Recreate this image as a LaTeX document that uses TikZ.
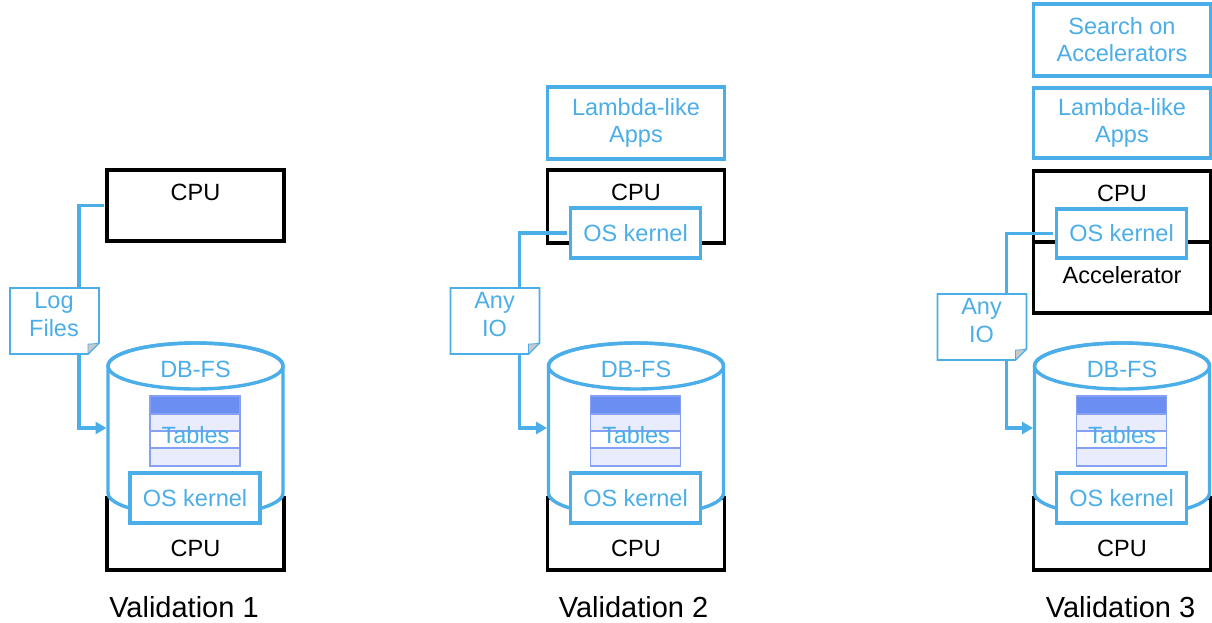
\documentclass[tikz,border=0pt]{standalone}
\usepackage{fontspec}
\setmainfont{Liberation Sans}
\usetikzlibrary{arrows.meta}
\definecolor{sky}{HTML}{4BAEE9}
\definecolor{thead}{HTML}{6A8EF2}
\definecolor{trow}{HTML}{E8ECFC}
\definecolor{tline}{HTML}{86A0F4}
\definecolor{foldgray}{HTML}{C9C9C9}
\tikzset{
  blackbox/.style={draw=black, line width=3.4pt, fill=white, inner sep=0pt},
  bluebox/.style={draw=sky, line width=3.4pt, fill=white, inner sep=0pt, text=sky,
    font=\fontsize{23.5}{27}\selectfont, align=center},
  btxt/.style={text=sky, font=\fontsize{23.5}{27}\selectfont, inner sep=0pt, align=center},
  ktxt/.style={text=black, font=\fontsize{23.5}{27}\selectfont, inner sep=0pt, align=center},
  vtxt/.style={text=black, font=\fontsize{29}{33}\selectfont, inner sep=0pt},
  conn/.style={draw=sky, line width=3.4pt, shorten <=1.5pt},
  arrowconn/.style={conn, -{Triangle[length=11pt,width=12pt]}, shorten >=1.5pt},
  notebox/.style={draw=sky, line width=1.6pt, fill=white, line join=miter},
  cylbody/.style={draw=sky, line width=3.4pt, fill=white},
}
\newcommand\bottompart[3]{%
  \node[blackbox, minimum width=177pt, minimum height=72pt] (cpuB#1) at (195.5,534) {};
  \path[cylbody] (108,366) -- (108,493)
     arc[start angle=180, end angle=360, x radius=87.5pt, y radius=23pt]
     -- (283,366)
     arc[start angle=0, end angle=180, x radius=87.5pt, y radius=23pt] -- cycle;
  \draw[sky, line width=3.4pt] (195.5,366) ellipse[x radius=87.5pt, y radius=23pt];
  \coordinate (cylin#1) at (108,428);
  \fill[thead] (150,396) rectangle (240,414);
  \fill[trow] (150,414) rectangle (240,431);
  \fill[trow] (150,448) rectangle (240,466);
  \draw[tline, line width=1.3pt] (150,396) rectangle (240,466)
     (150,414) -- (240,414) (150,431) -- (240,431) (150,448) -- (240,448);
  \node[btxt] (dbfs#1) at (195.5,369.5) {DB-FS};
  \node[btxt] (tabt#1) at (195.5,435) {Tables};
  \node[bluebox, minimum width=130pt, minimum height=50pt] (osB#1) at (195,498) {OS kernel};
  \node[ktxt] (cpuBt#1) at (195.5,548.5) {CPU};
  \node[vtxt] (val#1) at (#3,607) {#2};
}
\newcommand\docnote[4]{%
  \draw[notebox] (#1,#2) -- (#3,#2) -- (#3,#4-11) -- (#3-11,#4) -- (#1,#4) -- cycle;
  \filldraw[fill=foldgray, draw=sky, line width=0.8pt, line join=round]
     (#3,#4-11) .. controls (#3-4,#4-10) and (#3-9,#4-10) .. (#3-11,#4-10)
     .. controls (#3-11,#4-6) .. (#3-11,#4) -- cycle;
}
\begin{document}
\begin{tikzpicture}[x=1pt, y=-1pt]
\useasboundingbox (0,0) rectangle (1212,623);

% ---------- Panel 1 ----------
\begin{scope}
  \bottompart{1}{Validation 1}{184}
  \node[blackbox, minimum width=177pt, minimum height=71pt] (cpuT1) at (195.5,205.5) {};
  \node[ktxt] (cpuTt1) at (195.5,192.5) {CPU};
  \coordinate (bend1) at (79,428);
  \draw[arrowconn] (cpuT1.west) -| (bend1) -- (cylin1);
  \docnote{10}{288}{99}{354}
  \node[btxt, font=\fontsize{23.5}{28}\selectfont] (note1) at (54,315) {Log\\Files};
\end{scope}

% ---------- Panel 2 ----------
\begin{scope}[xshift=440.5pt]
  \bottompart{2}{Validation 2}{193}
  \node[bluebox, minimum width=177pt, minimum height=72pt] (lam2) at (195.5,123) {Lambda-like\\Apps};
  \node[blackbox, minimum width=177pt, minimum height=73pt] (cpuT2) at (195.5,206.5) {};
  \node[ktxt] (cpuTt2) at (195.5,192.5) {CPU};
  \node[bluebox, minimum width=130pt, minimum height=50pt] (osT2) at (195,233) {OS kernel};
  \coordinate (bend2) at (79,428);
  \draw[arrowconn] (osT2.west) -| (bend2) -- (cylin2);
  \docnote{10}{288}{99}{354}
  \node[btxt, font=\fontsize{23.5}{28}\selectfont] (note2) at (54,315) {Any\\IO};
\end{scope}

% ---------- Panel 3 ----------
\begin{scope}[xshift=926.5pt]
  \bottompart{3}{Validation 3}{194}
  \node[bluebox, minimum width=177pt, minimum height=72pt] (srch3) at (195.5,40) {Search on\\Accelerators};
  \node[bluebox, minimum width=177pt, minimum height=70pt] (lam3) at (195.5,123) {Lambda-like\\Apps};
  \node[blackbox, minimum width=177pt, minimum height=142pt] (cpuT3) at (195.5,242) {};
  \draw[black, line width=3.4pt] (cpuT3.west) -- (cpuT3.east);
  \node[ktxt] (cpuTt3) at (195.5,193.5) {CPU};
  \node[ktxt] (acc3) at (195.5,275.5) {Accelerator};
  \node[bluebox, minimum width=130pt, minimum height=49pt] (osT3) at (195,233.5) {OS kernel};
  \coordinate (bend3) at (80,428);
  \draw[arrowconn] (osT3.west) -| (bend3) -- (cylin3);
  \docnote{11}{294}{100}{360}
  \node[btxt, font=\fontsize{23.5}{28}\selectfont] (note3) at (55,321) {Any\\IO};
\end{scope}
\end{tikzpicture}
\end{document}
